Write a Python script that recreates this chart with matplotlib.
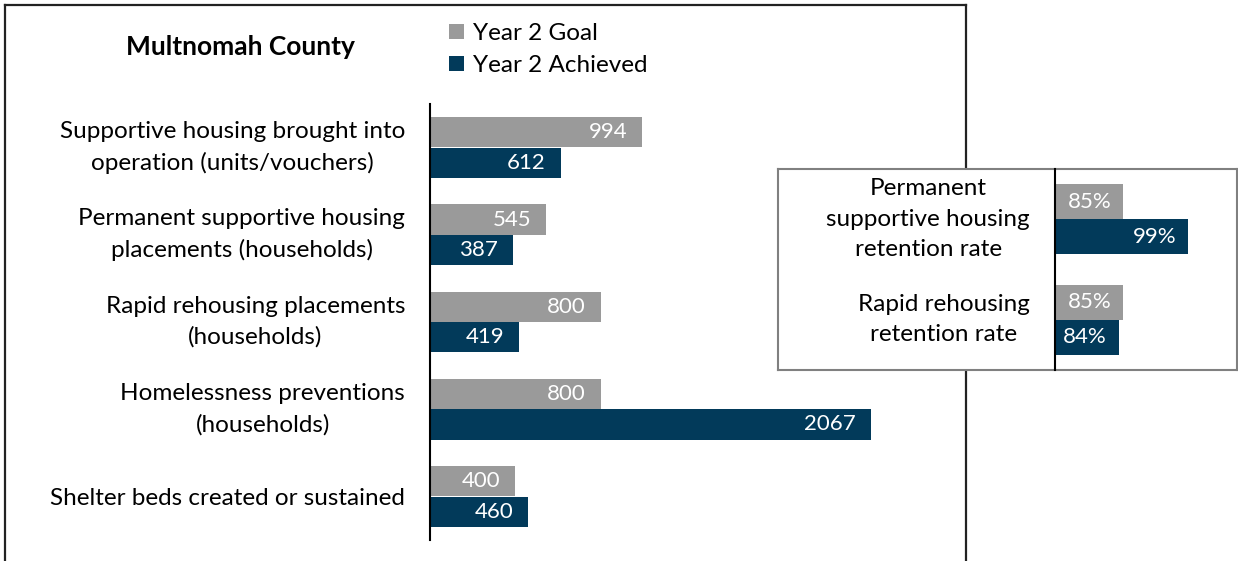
import matplotlib
matplotlib.use("Agg")
import matplotlib.pyplot as plt
from matplotlib.lines import Line2D
from matplotlib.patches import Patch
from matplotlib.transforms import ScaledTranslation

plt.rcParams['font.family'] = ['Lato', 'DejaVu Sans']

# ---- data ----
categories = [
    "Supportive housing brought into\noperation (units/vouchers)",
    "Permanent supportive housing\nplacements (households)",
    "Rapid rehousing placements\n(households)",
    "Homelessness preventions\n(households)",
    "Shelter beds created or sustained",
]
goal = [994, 545, 800, 800, 400]
achieved = [612, 387, 419, 2067, 460]

rate_categories = [
    "Permanent\nsupportive housing\nretention rate",
    "Rapid rehousing\nretention rate",
]
rate_goal = [85, 85]
rate_achieved = [99, 84]

series_names = ["Year 2 Goal", "Year 2 Achieved"]
title = "Multnomah County"

GRAY = "#9a9a9a"
NAVY = "#023a5a"

W, H = 1238, 561
fig = plt.figure(figsize=(W / 100, H / 100), dpi=100)
fig.patch.set_facecolor("white")

FS = 17.5
VFS = 16
LS = 1.55


def fx(px):
    return px / W


def fy(py):
    return 1 - py / H


def cat_labels(axis, labels, positions):
    for lab, y in zip(labels, positions):
        dy = 0.0 if "\n" in lab else -2.0
        tr = axis.get_yaxis_transform() + ScaledTranslation(-25 / 100, dy / 100, fig.dpi_scale_trans)
        axis.text(0, y, lab, transform=tr, ha="right", va="center",
                  multialignment="center", linespacing=LS, fontsize=FS)


# outer frame (open at bottom)
frame_kw = dict(color="#222222", lw=1.6, zorder=0.5, transform=fig.transFigure)
fig.add_artist(Line2D([fx(5), fx(5)], [fy(5), 0], **frame_kw))
fig.add_artist(Line2D([fx(5), fx(966)], [fy(5), fy(5)], **frame_kw))
fig.add_artist(Line2D([fx(966), fx(966)], [fy(5), 0], **frame_kw))

# ---- main axes ----
ax = fig.add_axes([fx(430), fy(540), fx(966 - 430), (540 - 104) / H], zorder=1)
ax.set_facecolor("none")
n = len(categories)
ys = list(range(n))
off = 0.175
bh = 0.345
b1 = ax.barh([y - off for y in ys], goal, height=bh, color=GRAY)
b2 = ax.barh([y + off for y in ys], achieved, height=bh, color=NAVY)
ax.set_xlim(0, 536 / 0.2133)
ax.set_ylim(n - 0.5, -0.5)
ax.set_yticks([])
ax.set_xticks([])
cat_labels(ax, categories, ys)
for s in ["top", "right", "bottom"]:
    ax.spines[s].set_visible(False)
ax.spines["left"].set_linewidth(1.5)
ax.spines["left"].set_color("black")
for bars, vals in ((b1, goal), (b2, achieved)):
    for rect, v in zip(bars, vals):
        ax.annotate(f"{v}", (rect.get_width(), rect.get_y() + rect.get_height() / 2),
                    xytext=(-15, 0), textcoords="offset pixels",
                    ha="right", va="center", color="white", fontsize=VFS)

# ---- inset box ----
box = fig.add_axes([fx(778), fy(370), fx(1237 - 778), (370 - 169) / H], zorder=2)
box.set_facecolor("white")
box.set_xticks([])
box.set_yticks([])
for s in box.spines.values():
    s.set_color("#808080")
    s.set_linewidth(1.5)

ax2 = fig.add_axes([fx(1055), fy(370), fx(1237 - 1055), (370 - 169) / H], zorder=3)
ax2.set_facecolor("none")
m = len(rate_categories)
ys2 = list(range(m))
off2 = 0.174
bh2 = 0.348
c1 = ax2.barh([y - off2 for y in ys2], rate_goal, height=bh2, color=GRAY)
c2 = ax2.barh([y + off2 for y in ys2], rate_achieved, height=bh2, color=NAVY)
ax2.set_xlim(70.3, 70.3 + 182 / 4.64)
ax2.set_ylim(m - 0.5, -0.5)
ax2.set_yticks([])
ax2.set_xticks([])
cat_labels(ax2, rate_categories, ys2)
for s in ["top", "right", "bottom"]:
    ax2.spines[s].set_visible(False)
ax2.spines["left"].set_linewidth(1.5)
ax2.spines["left"].set_color("black")
for bars, vals in ((c1, rate_goal), (c2, rate_achieved)):
    for rect, v in zip(bars, vals):
        ax2.annotate(f"{v}%", (rect.get_x() + rect.get_width(), rect.get_y() + rect.get_height() / 2),
                     xytext=(-12, 0), textcoords="offset pixels",
                     ha="right", va="center", color="white", fontsize=VFS)

# ---- title & legend ----
fig.text(fx(240), fy(47), title, ha="center", va="center", fontsize=19, weight="bold")
handles = [Patch(facecolor=GRAY), Patch(facecolor=NAVY)]
fig.legend(handles, series_names, loc="upper left", bbox_to_anchor=(fx(449), fy(23)),
           frameon=False, fontsize=FS, handlelength=0.6, handleheight=0.6,
           handletextpad=0.4, labelspacing=0.45, borderaxespad=0, borderpad=0)

fig.savefig("out.png", dpi=100, facecolor="white")
